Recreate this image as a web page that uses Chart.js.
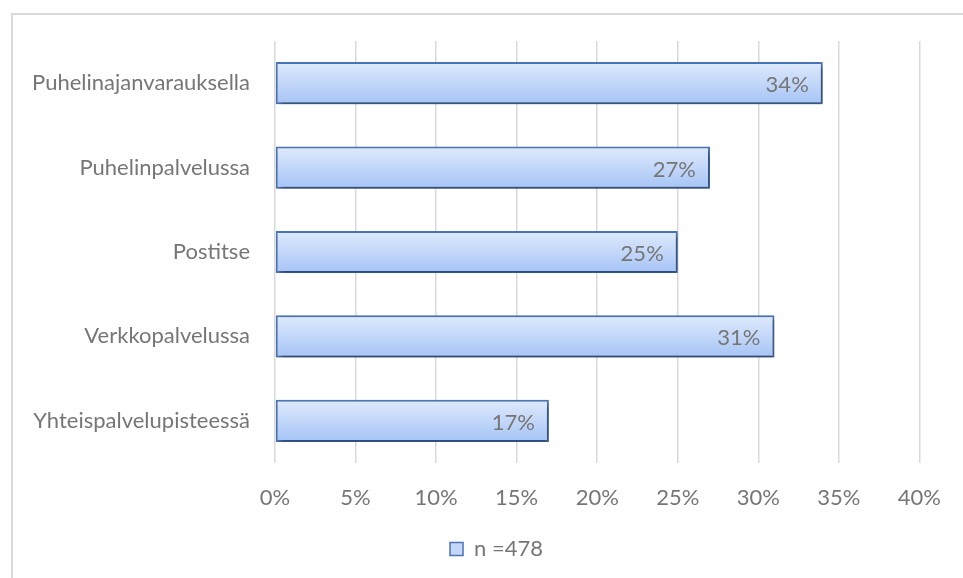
<!DOCTYPE html>
<html>
<head>
<meta charset="utf-8">
<script src="https://cdn.jsdelivr.net/npm/chart.js@4.4.1/dist/chart.umd.min.js"></script>
<style>
  html, body { margin: 0; padding: 0; background: #fff; overflow: hidden; }
  #frame { position: absolute; left: 11px; top: 13px; width: 1000px; height: 600px;
           border-left: 2px solid #d9d9d9; border-top: 2px solid #d9d9d9; }
  #wrap { position: absolute; left: 0; top: 0; width: 963px; height: 578px; }
</style>
</head>
<body>
<div id="frame"></div>
<div id="wrap"><canvas id="chart"></canvas></div>

<script>
// vastaukset, osuus vastaajista (%)
var categories = ["Puhelinajanvarauksella", "Puhelinpalvelussa", "Postitse", "Verkkopalvelussa", "Yhteispalvelupisteessä"];
var shares = [34, 27, 25, 31, 17];
var seriesName = "n =478";
var xTicks = [0, 5, 10, 15, 20, 25, 30, 35, 40];

var txt = "#767676";
var fontFam = "Lato, 'Open Sans', sans-serif";
var fontSize = 22;

// palkkien liukuväri + varjo
var barLook = {
  id: "barLook",
  beforeDraw: function(chart) {
    // selite hieman oikealle, keskelle koko kuvaa
    if (chart.legend) chart.legend.left = 72;
  },
  beforeDatasetsDraw: function(chart) {
    var ctx = chart.ctx;
    chart.getDatasetMeta(0).data.forEach(function(bar) {
      var top = bar.y - bar.height / 2;
      var g = ctx.createLinearGradient(0, top, 0, top + bar.height);
      g.addColorStop(0, "#dfeafc");
      g.addColorStop(1, "#a6c4f6");
      bar.options.backgroundColor = g;
    });
    ctx.save();
    ctx.shadowColor = "rgba(0,0,0,0.45)";
    ctx.shadowBlur = 5;
    ctx.shadowOffsetX = 2;
    ctx.shadowOffsetY = 3;
  },
  afterDatasetsDraw: function(chart) {
    var ctx = chart.ctx;
    ctx.restore();
    // arvot palkin sisään loppupäähän
    ctx.save();
    ctx.font = fontSize + "px " + fontFam;
    ctx.fillStyle = txt;
    ctx.textAlign = "right";
    ctx.textBaseline = "middle";
    chart.getDatasetMeta(0).data.forEach(function(bar, i) {
      ctx.fillText(shares[i] + "%", bar.x - 14, bar.y + 2);
    });
    ctx.restore();
  }
};

new Chart(document.getElementById("chart"), {
  type: "bar",
  data: {
    labels: categories,
    datasets: [{
      label: seriesName,
      data: shares,
      // funktiona, jotta jokainen palkki saa oman options-olion
      backgroundColor: function() { return "#c5d8f7"; },
      borderColor: "#4a76b9",
      borderWidth: 2,
      borderSkipped: false,
      barPercentage: 0.5,
      categoryPercentage: 1.0
    }]
  },
  options: {
    indexAxis: "y",
    responsive: true,
    maintainAspectRatio: false,
    animation: false,
    layout: { padding: { left: 0, right: 42, top: 41, bottom: 8 } },
    scales: {
      x: {
        min: 0, max: 40,
        afterBuildTicks: function(s) { s.ticks = xTicks.map(function(v) { return { value: v }; }); },
        ticks: {
          color: txt, padding: 22,
          font: { family: fontFam, size: fontSize },
          callback: function(v) { return v + "%"; }
        },
        grid: { color: "#d9d9d9", lineWidth: 1.5, drawTicks: false },
        border: { display: false },
        afterFit: function(s) { s.height = 65; }
      },
      y: {
        ticks: { color: txt, padding: 25, font: { family: fontFam, size: fontSize } },
        grid: { display: false, drawTicks: false },
        border: { display: false },
        afterFit: function(s) { s.width = 275; }
      }
    },
    plugins: {
      tooltip: { enabled: false },
      legend: {
        position: "bottom",
        labels: {
          color: txt, boxWidth: 13, boxHeight: 13, padding: 10,
          font: { family: fontFam, size: fontSize },
          generateLabels: function() {
            return [{ text: seriesName, fillStyle: "#c5d8f7", strokeStyle: "#4a76b9", lineWidth: 1.5, fontColor: txt }];
          }
        }
      }
    }
  },
  plugins: [barLook]
});
</script>
</body>
</html>
